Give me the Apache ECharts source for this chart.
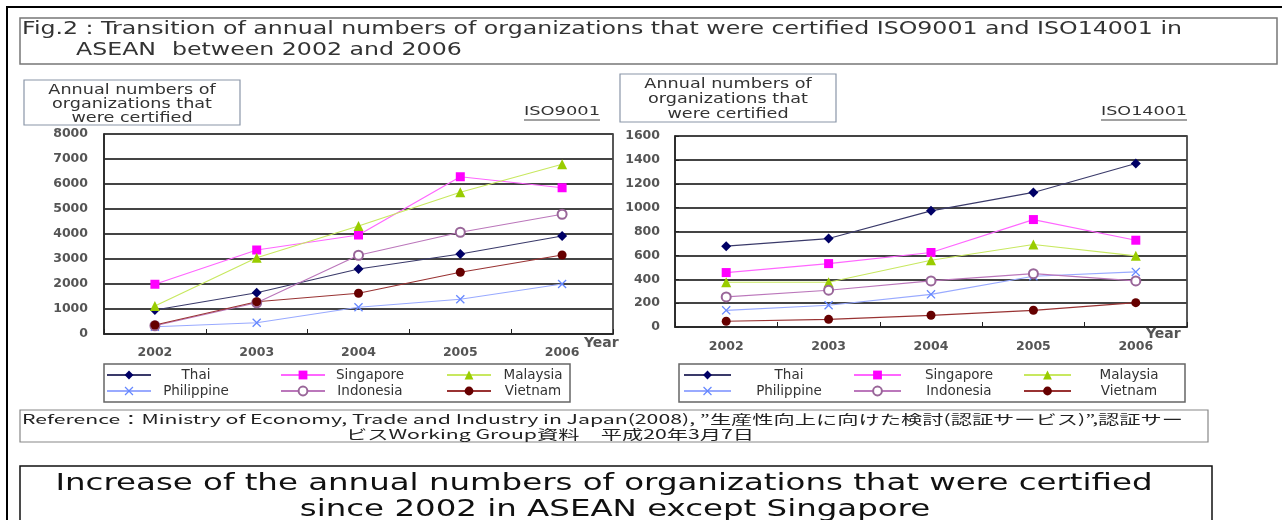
<!DOCTYPE html>
<html>
<head>
<meta charset="utf-8">
<script src="https://cdn.jsdelivr.net/npm/echarts@6/dist/echarts.min.js"></script>
<style>
  html, body { margin: 0; padding: 0; background: #fff; }
  #chart { width: 1282px; height: 520px; }
</style>
</head>
<body>
<div id="chart"></div>
<script>
// categories
const years = ['2002', '2003', '2004', '2005', '2006'];
const countries = ['Thai', 'Singapore', 'Malaysia', 'Philippine', 'Indonesia', 'Vietnam'];

// ISO9001 (left chart)
const iso9001Thai = [960, 1650, 2600, 3200, 3920];
const iso9001Singapore = [1990, 3360, 3960, 6290, 5850];
const iso9001Malaysia = [1120, 3050, 4320, 5670, 6790];
const iso9001Philippine = [290, 450, 1070, 1390, 2000];
const iso9001Indonesia = [330, 1250, 3150, 4070, 4790];
const iso9001Vietnam = [360, 1290, 1630, 2470, 3160];

// ISO14001 (right chart)
const iso14001Thai = [677, 741, 973, 1127, 1370];
const iso14001Singapore = [456, 531, 624, 900, 727];
const iso14001Malaysia = [375, 375, 559, 691, 596];
const iso14001Philippine = [140, 182, 274, 425, 461];
const iso14001Indonesia = [252, 308, 386, 447, 386];
const iso14001Vietnam = [48, 64, 98, 140, 204];

// y axis ticks
const leftTicks = [0, 1000, 2000, 3000, 4000, 5000, 6000, 7000, 8000];
const rightTicks = [0, 200, 400, 600, 800, 1000, 1200, 1400, 1600];

const leftData = [iso9001Thai, iso9001Singapore, iso9001Malaysia, iso9001Philippine, iso9001Indonesia, iso9001Vietnam];
const rightData = [iso14001Thai, iso14001Singapore, iso14001Malaysia, iso14001Philippine, iso14001Indonesia, iso14001Vietnam];

const xPath = 'path://M0,1L1,0L5,4L9,0L10,1L6,5L10,9L9,10L5,6L1,10L0,9L4,5Z';
const looks = {
  Thai:       { marker: '#000066', line: '#3a3a6a', symbol: 'diamond', size: 10 },
  Singapore:  { marker: '#ff00ff', line: '#ff66ff', symbol: 'rect', size: 9 },
  Malaysia:   { marker: '#99cc00', line: '#c8e860', symbol: 'triangle', size: 10 },
  Philippine: { marker: '#6688ff', line: '#99aaff', symbol: xPath, size: 9 },
  Indonesia:  { marker: '#996699', line: '#bb77bb', symbol: 'emptyCircle', size: 9 },
  Vietnam:    { marker: '#660000', line: '#993333', symbol: 'circle', size: 9 }
};

const measureCtx = document.createElement('canvas').getContext('2d');
function textWidth(str, size, family, weight) {
  measureCtx.font = (weight || 'normal') + ' ' + size + 'px ' + family;
  return measureCtx.measureText(str).width;
}

const wide = '"DejaVu Sans", sans-serif';
const cjkFont = '"Noto Sans CJK JP", sans-serif';

const title1 = 'Fig.2 : Transition of annual numbers of organizations that were certified ISO9001 and ISO14001 in';
const ref1 = 'Reference：Ministry of Economy, Trade and Industry in Japan(2008), ”生産性向上に向けた検討(認証サービス)”,認証サー';
const ref2 = 'ビスWorking Group資料　平成20年3月7日';
const bottom1 = 'Increase of the annual numbers of organizations that were certified';
const bottom2 = 'since 2002 in ASEAN except Singapore';
const unitLines = ['Annual numbers of', 'organizations that', 'were certified'];

// horizontal stretch so a text spans the same width as in the picture
function stretch(str, size, family, weight, target) {
  return target / textWidth(str, size, family, weight);
}
const titleScale = stretch(title1, 17, wide, 'normal', 1160);
const refScale = stretch(ref1, 13, cjkFont, 'normal', 1161);
const bottomScale = stretch(bottom1, 23, wide, 'normal', 1097);
const unitScale = stretch(unitLines[1], 13.5, wide, 'normal', 160);

function makeSeries(data, idx) {
  return countries.map((c, i) => ({
    name: c,
    type: 'line',
    xAxisIndex: idx,
    yAxisIndex: idx,
    data: data[i],
    symbol: looks[c].symbol,
    symbolSize: looks[c].size,
    itemStyle: { color: looks[c].marker, borderColor: looks[c].marker, borderWidth: c === 'Indonesia' ? 1.3 : 0 },
    lineStyle: { color: looks[c].line, width: 1.2 },
    emphasis: { disabled: true },
    z: 3
  }));
}

const axisFont = { fontFamily: 'DejaVu Sans', fontWeight: 'bold', fontSize: 12.5, color: '#555' };

function makeXAxis(gridIndex, labelMargin) {
  return {
    type: 'category',
    gridIndex: gridIndex,
    data: years,
    boundaryGap: true,
    axisLine: { lineStyle: { color: '#222', width: 1.5 } },
    axisTick: { show: true, inside: true, length: 5, lineStyle: { color: '#222' } },
    axisLabel: Object.assign({ margin: labelMargin }, axisFont),
    splitLine: { show: false }
  };
}

function makeYAxis(gridIndex, ticks, margin, tickInside) {
  return {
    type: 'value',
    gridIndex: gridIndex,
    min: ticks[0],
    max: ticks[ticks.length - 1],
    interval: ticks[1] - ticks[0],
    axisLine: { show: true, lineStyle: { color: '#222', width: 1.5 } },
    axisTick: { show: tickInside, inside: true, length: 4, lineStyle: { color: '#222' } },
    axisLabel: Object.assign({ margin: margin, formatter: v => String(v) }, axisFont),
    splitLine: { show: true, lineStyle: { color: '#444', width: 2 } }
  };
}

// legends: 3 columns, 2 rows each
function makeLegends(starts, iconW, textWs) {
  const cols = [['Thai', 'Philippine'], ['Singapore', 'Indonesia'], ['Malaysia', 'Vietnam']];
  return cols.map((names, i) => ({
    orient: 'vertical',
    left: starts[i],
    top: 368,
    data: names,
    itemWidth: iconW,
    itemHeight: 11,
    itemGap: 2,
    selectedMode: false,
    padding: 0,
    formatter: '{t|{name}}',
    textStyle: {
      rich: { t: { width: textWs[i], align: 'center', lineHeight: 15, fontSize: 13.5, fontFamily: 'DejaVu Sans', color: '#333' } }
    }
  }));
}

function box(x, y, w, h, color, width) {
  return { type: 'rect', shape: { x: x, y: y, width: w, height: h }, style: { fill: '#fff', stroke: color, lineWidth: width }, z: 0 };
}
function text(x, y, str, size, family, opts) {
  opts = opts || {};
  return {
    type: 'text', x: x, y: y, z: 10, scaleX: opts.scale || 1,
    style: { text: str, fontSize: size, fontFamily: family, fontWeight: opts.weight || 'normal', fill: opts.color || '#333', align: opts.align || 'left', verticalAlign: 'middle' }
  };
}

const graphics = [
  { type: 'polyline', shape: { points: [[7, 520], [7, 7], [1282, 7]] }, style: { stroke: '#000', lineWidth: 2, fill: null } },
  box(20, 18, 1257, 46, '#777', 1.5),
  text(22, 30, title1, 17, wide, { scale: titleScale }),
  text(76, 51, 'ASEAN', 17, wide, { scale: titleScale }),
  text(172, 51, 'between 2002 and 2006', 17, wide, { scale: titleScale }),
  box(24, 80, 216, 45, '#8a96a8', 1.2),
  box(620, 74, 216, 48, '#8a96a8', 1.2),
  box(104, 364, 466, 38, '#666', 1.5),
  box(679, 364, 506, 38, '#666', 1.5),
  box(20, 410, 1188, 32, '#888', 1.2),
  text(22, 419, ref1, 13, cjkFont, { scale: refScale, color: '#222' }),
  text(346, 434, ref2, 13, cjkFont, { scale: refScale, color: '#222' }),
  box(20, 466, 1192, 70, '#111', 1.5),
  text(604, 484, bottom1, 23, wide, { align: 'center', color: '#111', scale: bottomScale }),
  text(615, 510, bottom2, 23, wide, { align: 'center', color: '#111', scale: bottomScale }),
  text(584, 343, 'Year', 14, 'DejaVu Sans', { weight: 'bold', color: '#555' }),
  text(1146, 334, 'Year', 14, 'DejaVu Sans', { weight: 'bold', color: '#555' })
];
unitLines.forEach((s, i) => {
  graphics.push(text(132, 90 + i * 14, s, 13.5, wide, { align: 'center', scale: unitScale }));
  graphics.push(text(728, 84 + i * 15, s, 13.5, wide, { align: 'center', scale: unitScale }));
});
// chart names, underlined
[['ISO9001', 524, 76], ['ISO14001', 1101, 86]].forEach(([s, left, w]) => {
  const sc = stretch(s, 13, wide, 'normal', w);
  graphics.push(text(left, 112, s, 13, wide, { scale: sc, color: '#333' }));
  graphics.push({ type: 'line', shape: { x1: left, y1: 120, x2: left + w, y2: 120 }, style: { stroke: '#444', lineWidth: 1 }, z: 10 });
});

const chart = echarts.init(document.getElementById('chart'), null, { renderer: 'canvas' });
chart.setOption({
  animation: false,
  backgroundColor: '#fff',
  graphic: graphics,
  grid: [
    { left: 104, top: 134, width: 509, height: 200, show: true, borderColor: '#222', borderWidth: 1.5 },
    { left: 675, top: 136, width: 512, height: 191, show: true, borderColor: '#222', borderWidth: 1.5 }
  ],
  xAxis: [makeXAxis(0, 12), makeXAxis(1, 13)],
  yAxis: [makeYAxis(0, leftTicks, 16, false), makeYAxis(1, rightTicks, 15, true)],
  legend: makeLegends([106, 280, 446], 44, [80, 80, 74]).concat(makeLegends([683, 853, 1023], 47, [106, 106, 106])),
  series: makeSeries(leftData, 0).concat(makeSeries(rightData, 1))
});
</script>
</body>
</html>
